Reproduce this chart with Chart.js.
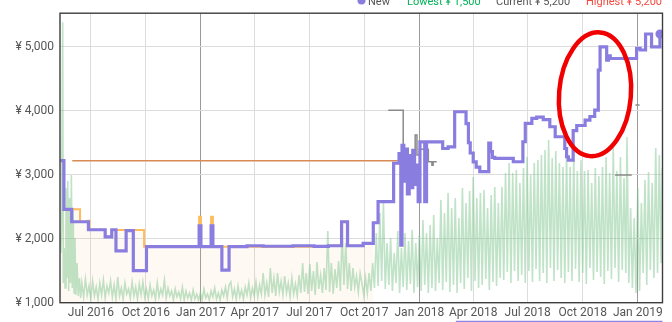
<!DOCTYPE html>
<html><head><meta charset="utf-8">
<script src="https://cdn.jsdelivr.net/npm/chart.js@4.4.1/dist/chart.umd.min.js"></script>
<style>html,body{margin:0;padding:0;background:#fff;overflow:hidden}canvas{display:block}</style>
</head><body>
<canvas id="c" width="672" height="322"></canvas>
<script>
// All x values are days since 2016-01-01
const tickDays   = [182, 274, 366, 456, 547, 639, 731, 821, 912, 1004, 1096];
const tickLabels = ['Jul 2016','Oct 2016','Jan 2017','Apr 2017','Jul 2017','Oct 2017','Jan 2018','Apr 2018','Jul 2018','Oct 2018','Jan 2019'];
const yearDays   = [366, 731, 1096];
const priceTicks = [1000, 2000, 3000, 4000, 5000];

// "New" price (purple, stepped)
const newDays = [131,137,150,178,206,217,224,241,253,275,363,366,383,386,401,413,443,470,520,555,579,601,611,637,654,662,688,697,700,702,705,708,711,714,717,720,723,726,729,732,740,743,770,779,790,809,813,816,821,826,832,847,850,853,857,888,904,908,919,927,938,949,958,974,977,980,988,994,1008,1016,1024,1030,1033,1044,1047,1050,1094,1100,1109,1119,1133];
const newPrices = [3220,2460,2265,2140,2030,2140,1810,2125,1500,1875,2200,1875,2200,1875,1510,1875,1890,1882,1890,1880,1890,2265,1890,1928,2250,2580,3180,3330,1900,3460,2900,3400,2700,3300,2800,3380,2850,3150,2580,3515,2580,3515,3410,3437,3985,3800,3500,3340,3200,3120,3050,3495,3360,3270,3255,3203,3516,3803,3880,3900,3860,3750,3594,3410,3281,3230,3690,3770,3855,3910,4010,4635,5000,4790,4860,4817,4975,4950,5200,5000,5200];

// Amazon price (orange, with light fill)
const amazonDays   = [131,137,164,176,180,206,217,271,363,366,383,386,579,601,611,637,654];
const amazonPrices = [3220,2460,2265,2281,2140,2030,2136,1875,2344,1875,2344,1875,1890,2265,1890,1928,1928];

// List price (brown)
const listDays   = [151, 695];
const listPrices = [3220, 3220];

// Used / other offers (gray, with gaps)
const grayDays   = [679,704,724,727,731,746,752,754,760,761,1058,1086,1087,1092,1099];
const grayPrices = [4010,3308,3620,3308,3397,3203,3150,3203,3203,null,2995,2995,null,4090,4090];

// Sales rank (green, hidden reversed axis)
const rankDays = [
 131,132,133,135,136,137.5,139,140.5,142,143.5,145,146.5,148,149.5,151,152.5,154,155.5,157,159,161,163,165,
 167,170,173,176,179,182,185,188,191,194,197,200,203,206,209,212,215,218,221,224,227,230,233,236,239,242,
 245,248,251,254,257,260,263,266,269,272,275,278,281,284,287,290,293,296,299,302,305,308,311,314,317,320,
 323,326,329,332,335,338,341,344,347,350,353,356,359,362,
 365,368,371,374,377,380,383,386,389,392,395,398,401,404,407,410,413,416,419,422,425,428,431,434,437,440,
 443,446,449,452,455,458,461,464,467,470,473,476,479,482,485,488,491,494,497,500,503,506,509,512,515,518,
 521,524,527,530,
 533,536,539,542,545,548,551,554,557,560,563,566,569,572,575,578,581,584,587,590,593,596,599,602,605,608,
 611,614,617,620,623,626,629,632,
 635,638,641,644,647,650,653,656,659,662,665,668,671,674,677,680,683,686,689,692,695,698,701,704,707,710,
 713,716,719,722,725,728,731,
 734,737,740,743,746,749,752,755,758,761,764,
 767,770,773,776,779,782,785,788,791,794,797,
 800,803,806,809,812,815,818,821,824,827,830,
 833,836,839,842,845,848,851,854,857,860,863,866,
 869,872,875,878,881,884,887,890,893,896,899,
 902,905,908,911,914,917,920,923,926,929,932,
 935,938,941,944,947,950,953,956,959,962,965,
 968,971,974,977,980,983,986,989,992,995,998,
 1001,1004,1007,1010,1013,1016,1019,1022,1025,1028,1031,
 1034,1037,1040,1043,1046,1049,1052,1055,1058,1061,1064,1067,1070,
 1073,1076,1078,1081,1084,1087,1090,1093,
 1096,1099,1102,1105,1108,1111,1114,1117,1120,1123,1126,1129,1132,1135,1137
];
const rankValues = [
 22000,24000,21500,900,27000,23500,27500,17500,26500,16800,27800,18500,27000,16200,27500,19500,28000,22500,28200,25000,28300,26500,28500,
 27000,28400,26600,28200,27300,28600,26800,28300,27400,28600,27000,28200,26700,28500,27300,28000,26800,28400,27200,28600,26400,28300,27500,28600,27000,28100,
 27600,28500,26900,28300,27400,28600,27100,28200,26900,28400,27600,28600,27200,28300,27700,28600,27000,28400,27600,28200,26700,28500,27500,28300,27800,28700,
 27600,28400,27900,28600,27400,28700,27800,28500,28000,28700,27700,28600,28100,28700,
 28000,28700,27600,28500,28100,28700,27800,28400,27500,28600,28000,28700,27700,28300,27400,28500,27200,26900,28400,27600,28600,27300,28400,27700,28600,27400,
 28200,27000,28500,27500,28300,26900,28400,27200,28100,26000,28200,27000,28400,25500,28000,26500,28300,26000,27900,26800,28200,26300,28000,27000,28400,26500,
 28100,27100,28300,26200,
 28000,25000,27900,26000,28100,25100,27800,25800,28200,24900,27600,26200,28000,25500,27700,21800,27900,25000,28100,25600,27500,24800,27800,22000,27200,23000,
 27600,25000,27800,25500,27400,26300,27900,26000,
 27000,28200,26500,28000,26000,27800,25000,27500,22000,27300,20000,26800,19000,27600,23000,27200,22500,27800,24000,27000,21800,28000,23500,27400,22000,27700,
 22800,27100,21700,28000,23000,27400,22200,
 27800,20700,27200,22000,28000,21200,27500,20200,27800,22500,27000,
 18700,27700,20000,26900,18000,27900,19500,27200,18500,28000,20500,
 27000,17500,27600,19000,26500,17800,27800,16400,26800,18500,27500,
 18000,27200,17700,26600,19500,27700,18200,26900,17400,27300,19000,26500,
 17400,26700,16000,25900,15000,27000,16000,25800,15700,26800,17000,
 26200,15500,27000,14400,25800,16200,26900,15000,25600,14700,26800,
 14200,26000,13700,27000,12700,25500,14500,26800,13800,25700,15000,
 26500,15400,27000,14000,25900,15400,26800,14600,25600,15800,26900,
 14700,26000,15800,27100,15700,25500,17000,26700,15500,25900,16300,
 26400,15400,27100,14400,25800,16000,26600,13400,25500,15800,26900,14400,25700,
 16500,26000,12400,27000,19500,27500,20500,28000,
 17500,27800,19000,26000,16700,27200,15900,25700,17000,26500,13500,26000,14200,25000,15500
];

// Hand-drawn red ellipse annotation (data units)
const markCenterDay = 1024.5, markCenterPrice = 4258, markRadiusDays = 60, markRadiusPrice = 970, markTilt = 0.08;

const pts = (xs, ys) => xs.map((x, i) => ({x: x, y: ys[i]}));
const PURPLE = '#8a7de0';

const overlay = {
  id: 'overlay',
  afterDatasetsDraw(chart) {
    const {ctx, chartArea: a, scales} = chart;
    ctx.save();
    ctx.strokeStyle = '#3d3d3d';
    ctx.lineWidth = 1.4;
    ctx.strokeRect(a.left, a.top, a.right - a.left, a.bottom - a.top);
    const xs = scales.x, ys = scales.y;
    const cx = xs.getPixelForValue(markCenterDay), cy = ys.getPixelForValue(markCenterPrice);
    const rx = xs.getPixelForValue(markCenterDay + markRadiusDays) - cx;
    const ry = cy - ys.getPixelForValue(markCenterPrice + markRadiusPrice);
    ctx.beginPath();
    ctx.ellipse(cx, cy, rx, ry, markTilt, 0, Math.PI * 2);
    ctx.strokeStyle = '#f00000';
    ctx.lineWidth = 4.5;
    ctx.stroke();
    ctx.restore();
  },
  afterDraw(chart) {
    const {ctx, chartArea: a, scales} = chart;
    ctx.save();
    ctx.font = '11px Roboto';
    ctx.textBaseline = 'alphabetic';
    ctx.textAlign = 'left';
    ctx.fillStyle = PURPLE;
    ctx.beginPath(); ctx.arc(361.5, 0.5, 4, 0, Math.PI * 2); ctx.fill();
    ctx.fillStyle = '#555'; ctx.fillText('New', 368, 4.5);
    ctx.fillStyle = '#00b358'; ctx.fillText('Lowest ¥ 1,500', 407, 4.5);
    ctx.fillStyle = '#555'; ctx.fillText('Current ¥ 5,200', 496, 4.5);
    ctx.fillStyle = '#f4493c'; ctx.fillText('Highest ¥ 5,200', 586, 4.5);
    ctx.strokeStyle = '#9084e4';
    ctx.lineWidth = 1.5;
    ctx.beginPath();
    ctx.moveTo(scales.x.getPixelForValue(792), 321.5);
    ctx.lineTo(a.right, 321.5);
    ctx.stroke();
    ctx.restore();
  }
};

Chart.defaults.font.family = 'Roboto';
new Chart(document.getElementById('c'), {
  type: 'line',
  data: {
    datasets: [
      { label: 'New', data: pts(newDays, newPrices), yAxisID: 'y', borderColor: PURPLE, backgroundColor: PURPLE,
        borderWidth: 3.2, stepped: true, fill: false, order: 1,
        pointRadius: c => c.dataIndex === newDays.length - 1 ? 4.5 : 0, pointBorderWidth: 0 },
      { label: 'Amazon', data: pts(amazonDays, amazonPrices), yAxisID: 'y', borderColor: '#ffbb5c',
        borderWidth: 2, stepped: true, fill: false, pointRadius: 0, order: 2 },
      { label: 'Used', data: pts(grayDays, grayPrices), yAxisID: 'y', borderColor: '#8a8a8a',
        borderWidth: 1.5, stepped: true, fill: false, pointRadius: 0, spanGaps: false, order: 3 },
      { label: 'List', data: pts(listDays, listPrices), yAxisID: 'y', borderColor: '#d98b55',
        borderWidth: 1.5, fill: false, pointRadius: 0, order: 4 },
      { label: 'Sales Rank', data: pts(rankDays, rankValues), yAxisID: 'rank', borderColor: 'rgba(130,200,145,0.5)',
        borderWidth: 1.6, fill: false, pointRadius: 0, tension: 0, order: 5 },
      { label: 'Amazon area', data: pts(amazonDays, amazonPrices), yAxisID: 'y', borderWidth: 0, borderColor: 'rgba(0,0,0,0)',
        backgroundColor: 'rgba(255,200,150,0.1)', stepped: true, fill: 'start', pointRadius: 0, order: 6 }
    ]
  },
  options: {
    responsive: false,
    devicePixelRatio: 1,
    animation: false,
    events: [],
    layout: { padding: { left: 0, right: 9.5, top: 13, bottom: 0 } },
    plugins: { legend: { display: false }, tooltip: { enabled: false } },
    scales: {
      x: {
        type: 'linear', min: 130.5, max: 1137.3,
        afterBuildTicks: s => { s.ticks = tickDays.map(v => ({ value: v })); },
        afterFit: s => { s.height = 19.3; },
        border: { display: false },
        grid: { drawTicks: false, lineWidth: 1,
          color: c => (c.tick && yearDays.includes(c.tick.value)) ? '#9a9a9a' : '#dcdcdc' },
        ticks: { padding: 3, maxRotation: 0, autoSkip: false, color: '#555', font: { size: 12 },
          callback: (v, i) => tickLabels[i] }
      },
      y: {
        type: 'linear', position: 'left', min: 1000, max: 5525,
        afterBuildTicks: s => { s.ticks = priceTicks.map(v => ({ value: v })); },
        afterFit: s => { s.width = 60; },
        border: { display: false },
        grid: { drawTicks: false, color: '#dcdcdc', lineWidth: 1 },
        ticks: { padding: 6, color: '#555', font: { size: 12 },
          callback: v => '¥ ' + Number(v).toLocaleString('en-US') }
      },
      rank: { type: 'linear', axis: 'y', position: 'right', display: false, reverse: true, min: 0, max: 28970 }
    }
  },
  plugins: [overlay]
});
</script>
</body></html>
